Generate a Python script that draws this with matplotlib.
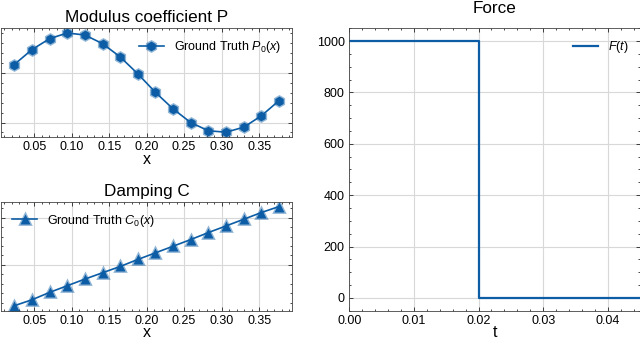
import matplotlib
matplotlib.use("Agg")
import matplotlib.pyplot as plt
from matplotlib.ticker import MultipleLocator
import numpy as np

# spatial grid points
x = [0.0235, 0.0471, 0.0706, 0.0941, 0.1176, 0.1412, 0.1647, 0.1882,
     0.2118, 0.2353, 0.2588, 0.2824, 0.3059, 0.3294, 0.3529, 0.3765]
p0 = [1.583, 1.733, 1.843, 1.900, 1.880, 1.793, 1.660, 1.490,
      1.303, 1.137, 1.000, 0.917, 0.903, 0.953, 1.067, 1.220]
c0 = [0.070, 0.133, 0.211, 0.281, 0.351, 0.418, 0.484, 0.558,
      0.628, 0.698, 0.768, 0.842, 0.912, 0.982, 1.053, 1.116]

# force history
t = [0.0, 0.02, 0.02, 0.045]
force = [1000, 1000, 0, 0]

blue = "#0C5DA5"

plt.rcParams["font.family"] = ["Liberation Sans", "DejaVu Sans"]
plt.rcParams["mathtext.fontset"] = "custom"
plt.rcParams["mathtext.rm"] = "Liberation Sans"
plt.rcParams["mathtext.it"] = "Liberation Sans:italic"
plt.rcParams["xtick.direction"] = "in"
plt.rcParams["ytick.direction"] = "in"
plt.rcParams["xtick.top"] = True
plt.rcParams["ytick.right"] = True
plt.rcParams["xtick.minor.visible"] = True
plt.rcParams["ytick.minor.visible"] = True
plt.rcParams["xtick.major.size"] = 3
plt.rcParams["ytick.major.size"] = 3
plt.rcParams["xtick.minor.size"] = 1.5
plt.rcParams["ytick.minor.size"] = 1.5
plt.rcParams["xtick.major.width"] = 0.5
plt.rcParams["ytick.major.width"] = 0.5
plt.rcParams["xtick.minor.width"] = 0.5
plt.rcParams["ytick.minor.width"] = 0.5
plt.rcParams["xtick.major.pad"] = 3
plt.rcParams["axes.linewidth"] = 0.6
plt.rcParams["xtick.labelsize"] = 9
plt.rcParams["ytick.labelsize"] = 9

fig = plt.figure(figsize=(6.4, 3.42), dpi=100)
ax1 = fig.add_axes([0.0016, 0.599, 0.455, 0.319])
ax2 = fig.add_axes([0.0016, 0.0915, 0.455, 0.319])
ax3 = fig.add_axes([0.546, 0.0915, 0.454, 0.826])

mk = dict(color=blue, lw=1.2, ms=7, mfc=blue, mec=(0.047, 0.365, 0.647, 0.45), mew=2)

ax1.plot(x, p0, marker="h", label=r"Ground Truth $P_0(x)$", **mk)
ax1.set_title("Modulus coefficient P", fontsize=12.3, pad=4)
ax1.set_xlabel("x", fontsize=11.5, labelpad=-1)
ax1.set_yticklabels([])
ax1.legend(loc="upper right", frameon=False, fontsize=9)

ax2.plot(x, c0, marker="^", label=r"Ground Truth $C_0(x)$", **mk)
ax2.set_title("Damping C", fontsize=12.3, pad=4)
ax2.set_xlabel("x", fontsize=11.5, labelpad=-1)
ax2.set_yticklabels([])
ax2.legend(loc="upper left", frameon=False, fontsize=9)

for ax in (ax1, ax2):
    ax.xaxis.set_major_locator(MultipleLocator(0.05))
    ax.xaxis.set_minor_locator(MultipleLocator(0.01))

ax3.plot(t, force, color=blue, lw=1.6, label=r"$F(t)$")
ax3.set_xlim(0, 0.045)
ax3.xaxis.set_major_locator(MultipleLocator(0.01))
ax3.set_title("Force", fontsize=12.3, pad=11)
ax3.set_xlabel("t", fontsize=11.5, labelpad=-1)
ax3.legend(loc="upper right", frameon=False, fontsize=9)

for ax in (ax1, ax2, ax3):
    ax.grid(True, color="#d8d8d8", lw=0.8)
    ax.set_axisbelow(True)
    for s in ax.spines.values():
        s.set_color("#444444")

fig.savefig("out.png", dpi=100)
